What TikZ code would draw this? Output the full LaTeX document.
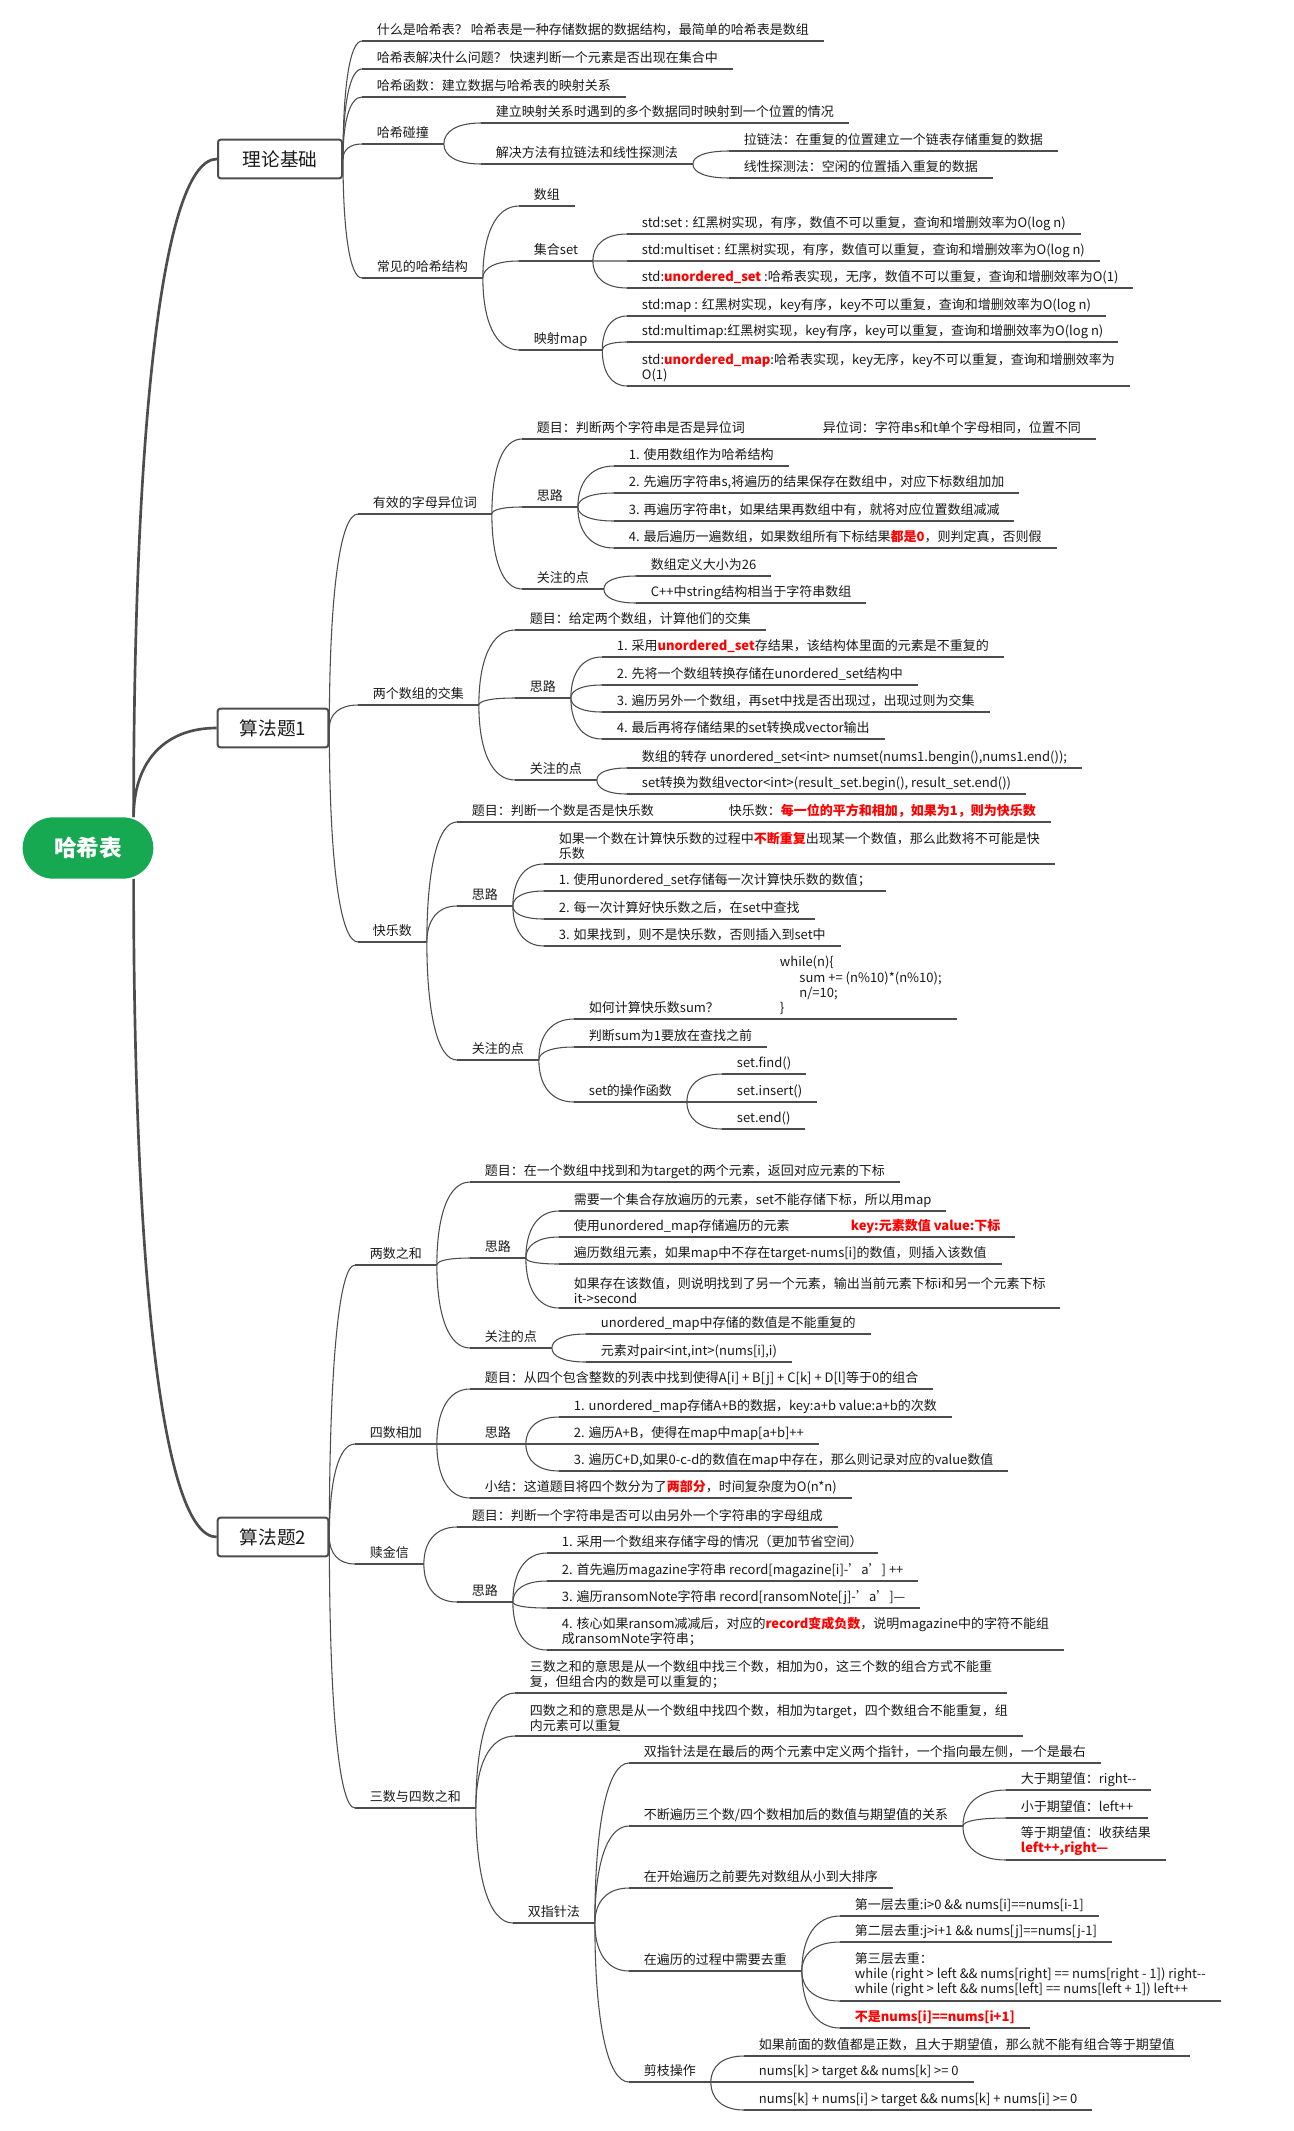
\documentclass[tikz,border=0pt]{standalone}
\usepackage{fontspec}
\setmainfont{Noto Sans CJK SC}
\usetikzlibrary{calc}
\definecolor{linec}{HTML}{4D4D4D}
\definecolor{rootc}{HTML}{17A952}
\definecolor{textc}{HTML}{1A1A1A}
\newcommand{\redb}[1]{\textcolor{red}{\textbf{#1}}}
\begin{document}
\begin{tikzpicture}[x=0.75pt,y=-0.75pt,
    uline/.style={draw=linec, line width=0.8pt},
    itembase/.style={anchor=south west, align=left, inner xsep=11pt, inner ysep=2.8pt,
      text=textc, font=\fontsize{9.75}{11.5}\selectfont,
      append after command={(\tikzlastnode.south west) edge[uline] (\tikzlastnode.south east)}},
    item/.style={itembase, text depth=2pt},
    items/.style={itembase},
    branch/.style={uline, to path={.. controls ($(\tikztostart)!0.6!(\tikztostart|-\tikztotarget)$)
      and ($(\tikztostart|-\tikztotarget)!0.35!(\tikztotarget)$) .. (\tikztotarget)}},
    trunk/.style={branch, line width=2pt},
    topic/.style={draw=linec, line width=1.5pt, fill=white, rounded corners=2pt,
      minimum height=29pt, inner sep=0pt, text=textc, font=\fontsize{14}{16}\selectfont},
    roottopic/.style={fill=rootc, text=white, rounded corners=23pt, minimum width=98pt,
      minimum height=46pt, font=\fontsize{17}{20}\selectfont\bfseries}]
  \fill[white] (0,0) rectangle (1294,2131);
  \useasboundingbox (0,0) rectangle (1294,2131);

  \node[roottopic] (root) at (88,848) {哈希表};
  \node[topic, minimum width=93pt] (T) at (280,159) {理论基础};
  \node[topic, minimum width=83pt] (A) at (273,728) {算法题1};
  \node[topic, minimum width=83pt] (B) at (273,1537) {算法题2};
  \coordinate (rootup) at ([xshift=-15pt]root.north east);
  \coordinate (rootdown) at ([xshift=-15pt]root.south east);

  % 理论基础
  \node[item] (t1) at (362,41) {什么是哈希表？ 哈希表是一种存储数据的数据结构，最简单的哈希表是数组};
  \node[item] (t2) at (362,69) {哈希表解决什么问题？ 快速判断一个元素是否出现在集合中};
  \node[item] (t3) at (362,97) {哈希函数：建立数据与哈希表的映射关系};
  \node[item] (t4) at (362,144) {哈希碰撞};
  \node[item] (t41) at (481,123) {建立映射关系时遇到的多个数据同时映射到一个位置的情况};
  \node[item] (t42) at (481,164) {解决方法有拉链法和线性探测法};
  \node[item] (t421) at (729,151) {拉链法：在重复的位置建立一个链表存储重复的数据};
  \node[item] (t422) at (729,178) {线性探测法：空闲的位置插入重复的数据};
  \node[item] (t5) at (362,278) {常见的哈希结构};
  \node[item] (t51) at (519,206) {数组};
  \node[item] (t52) at (519,261) {集合set};
  \node[item] (t521) at (627,234) {std:set : 红黑树实现，有序，数值不可以重复，查询和增删效率为O(log n)};
  \node[item] (t522) at (627,261) {std:multiset : 红黑树实现，有序，数值可以重复，查询和增删效率为O(log n)};
  \node[item] (t523) at (627,288) {std:\redb{unordered\_set} :哈希表实现，无序，数值不可以重复，查询和增删效率为O(1)};
  \node[item] (t53) at (519,350) {映射map};
  \node[item] (t531) at (627,316) {std:map : 红黑树实现，key有序，key不可以重复，查询和增删效率为O(log n)};
  \node[item] (t532) at (627,342) {std:multimap:红黑树实现，key有序，key可以重复，查询和增删效率为O(log n)};
  \node[items] (t533) at (627,386) {std:\redb{unordered\_map}:哈希表实现，key无序，key不可以重复，查询和增删效率为\\O(1)};

  % 算法题1
  \node[item] (a1) at (358,514) {有效的字母异位词};
  \node[item] (a11) at (522,439) {题目：判断两个字符串是否是异位词};
  \node[item] (a111) at (808,439) {异位词：字符串s和t单个字母相同，位置不同};
  \node[item] (a12) at (522,507) {思路};
  \node[item] (a121) at (614,466) {1. 使用数组作为哈希结构};
  \node[item] (a122) at (614,493) {2. 先遍历字符串s,将遍历的结果保存在数组中，对应下标数组加加};
  \node[item] (a123) at (614,521) {3. 再遍历字符串t，如果结果再数组中有，就将对应位置数组减减};
  \node[item] (a124) at (614,548) {4. 最后遍历一遍数组，如果数组所有下标结果\redb{都是0}，则判定真，否则假};
  \node[item] (a13) at (522,589) {关注的点};
  \node[item] (a131) at (636,576) {数组定义大小为26};
  \node[item] (a132) at (636,603) {C++中string结构相当于字符串数组};

  \node[item] (a2) at (358,705) {两个数组的交集};
  \node[item] (a21) at (515,630) {题目：给定两个数组，计算他们的交集};
  \node[item] (a22) at (515,698) {思路};
  \node[item] (a221) at (602,657) {1. 采用\redb{unordered\_set}存结果，该结构体里面的元素是不重复的};
  \node[item] (a222) at (602,685) {2. 先将一个数组转换存储在unordered\_set结构中};
  \node[item] (a223) at (602,712) {3. 遍历另外一个数组，再set中找是否出现过，出现过则为交集};
  \node[item] (a224) at (602,739) {4. 最后再将存储结果的set转换成vector输出};
  \node[item] (a23) at (515,780) {关注的点};
  \node[item] (a231) at (627,768) {数组的转存 unordered\_set<int> numset(nums1.bengin(),nums1.end());};
  \node[item] (a232) at (627,794) {set转换为数组vector<int>(result\_set.begin(), result\_set.end())};

  \node[item] (a3) at (358,942) {快乐数};
  \node[item] (a31) at (457,822) {题目：判断一个数是否是快乐数};
  \node[item] (a311) at (714,822) {快乐数：\redb{每一位的平方和相加，如果为1，则为快乐数}};
  \node[item] (a32) at (457,906) {思路};
  \node[items] (a321) at (544,864) {如果一个数在计算快乐数的过程中\redb{不断重复}出现某一个数值，那么此数将不可能是快\\乐数};
  \node[item] (a322) at (544,891) {1. 使用unordered\_set存储每一次计算快乐数的数值；};
  \node[item] (a323) at (544,919) {2. 每一次计算好快乐数之后，在set中查找};
  \node[item] (a324) at (544,946) {3. 如果找到，则不是快乐数，否则插入到set中};
  \node[item] (a33) at (457,1060) {关注的点};
  \node[item] (a331) at (574,1019) {如何计算快乐数sum？};
  \node[items] (a3311) at (765,1019) {while(n)\{\\\hspace*{1.5em}sum += (n\%10)*(n\%10);\\\hspace*{1.5em}n/=10;\\\}};
  \node[item] (a332) at (574,1047) {判断sum为1要放在查找之前};
  \node[item] (a333) at (574,1102) {set的操作函数};
  \node[item] (a3331) at (722,1074) {set.find()};
  \node[item] (a3332) at (722,1102) {set.insert()};
  \node[item] (a3333) at (722,1129) {set.end()};

  % 算法题2
  \node[item] (b1) at (355,1265) {两数之和};
  \node[item] (b11) at (470,1182) {题目：在一个数组中找到和为target的两个元素，返回对应元素的下标};
  \node[item] (b12) at (470,1258) {思路};
  \node[item] (b121) at (559,1211) {需要一个集合存放遍历的元素，set不能存储下标，所以用map};
  \node[item] (b122) at (559,1237) {使用unordered\_map存储遍历的元素};
  \node[item] (b1221) at (836,1237) {\redb{key:元素数值 value:下标}};
  \node[item] (b123) at (559,1264) {遍历数组元素，如果map中不存在target-nums[i]的数值，则插入该数值};
  \node[items] (b124) at (559,1308) {如果存在该数值，则说明找到了另一个元素，输出当前元素下标i和另一个元素下标\\it->second};
  \node[item] (b13) at (470,1348) {关注的点};
  \node[item] (b131) at (586,1334) {unordered\_map中存储的数值是不能重复的};
  \node[item] (b132) at (586,1362) {元素对pair<int,int>(nums[i],i)};

  \node[item] (b2) at (355,1444) {四数相加};
  \node[item] (b21) at (470,1389) {题目：从四个包含整数的列表中找到使得A[i] + B[j] + C[k] + D[l]等于0的组合};
  \node[item] (b22) at (470,1444) {思路};
  \node[item] (b221) at (559,1417) {1. unordered\_map存储A+B的数据，key:a+b value:a+b的次数};
  \node[item] (b222) at (559,1444) {2. 遍历A+B，使得在map中map[a+b]++};
  \node[item] (b223) at (559,1471) {3. 遍历C+D,如果0-c-d的数值在map中存在，那么则记录对应的value数值};
  \node[item] (b23) at (470,1498) {小结：这道题目将四个数分为了\redb{两部分}，时间复杂度为O(n*n)};

  \node[item] (b3) at (355,1564) {赎金信};
  \node[item] (b31) at (457,1527) {题目：判断一个字符串是否可以由另外一个字符串的字母组成};
  \node[item] (b32) at (457,1602) {思路};
  \node[item] (b321) at (547,1553) {1. 采用一个数组来存储字母的情况（更加节省空间）};
  \node[item] (b322) at (547,1581) {2. 首先遍历magazine字符串 record[magazine[i]-'a'] ++};
  \node[item] (b323) at (547,1608) {3. 遍历ransomNote字符串 record[ransomNote[j]-'a']—};
  \node[items] (b324) at (547,1650) {4. 核心如果ransom减减后，对应的\redb{record变成负数}，说明magazine中的字符不能组\\成ransomNote字符串；};

  \node[item] (b4) at (355,1808) {三数与四数之和};
  \node[items] (b41) at (515,1693) {三数之和的意思是从一个数组中找三个数，相加为0，这三个数的组合方式不能重\\复，但组合内的数是可以重复的；};
  \node[items] (b42) at (515,1736) {四数之和的意思是从一个数组中找四个数，相加为target，四个数组合不能重复，组\\内元素可以重复};
  \node[item] (b43) at (513,1923) {双指针法};
  \node[item] (b431) at (629,1763) {双指针法是在最后的两个元素中定义两个指针，一个指向最左侧，一个是最右};
  \node[item] (b432) at (629,1826) {不断遍历三个数/四个数相加后的数值与期望值的关系};
  \node[item] (b4321) at (1006,1790) {大于期望值：right-{}-};
  \node[item] (b4322) at (1006,1818) {小于期望值：left++};
  \node[items] (b4323) at (1006,1860) {等于期望值：收获结果\\\redb{left++,right—}};
  \node[item] (b433) at (629,1888) {在开始遍历之前要先对数组从小到大排序};
  \node[item] (b434) at (629,1971) {在遍历的过程中需要去重};
  \node[item] (b4341) at (840,1916) {第一层去重:i>0 \&\& nums[i]==nums[i-1]};
  \node[item] (b4342) at (840,1942) {第二层去重:j>i+1 \&\& nums[j]==nums[j-1]};
  \node[items] (b4343) at (840,2001) {第三层去重：\\while (right > left \&\& nums[right] == nums[right - 1]) right-{}-\\while (right > left \&\& nums[left] == nums[left + 1]) left++};
  \node[item] (b4344) at (840,2028) {\redb{不是nums[i]==nums[i+1]}};
  \node[item] (b435) at (629,2082) {剪枝操作};
  \node[item] (b4351) at (744,2056) {如果前面的数值都是正数，且大于期望值，那么就不能有组合等于期望值};
  \node[item] (b4352) at (744,2082) {nums[k] > target \&\& nums[k] >= 0};
  \node[item] (b4353) at (744,2110) {nums[k] + nums[i] > target \&\& nums[k] + nums[i] >= 0};

  \begin{scope}
    \draw[trunk] (rootup) to (T.west);
    \draw[trunk] (rootup) to (A.west);
    \draw[trunk] (rootdown) to (B.west);

    \draw[branch] (T.east) to (t1.south west);
    \draw[branch] (T.east) to (t2.south west);
    \draw[branch] (T.east) to (t3.south west);
    \draw[branch] (T.east) to (t4.south west);
    \draw[branch] (T.east) to (t5.south west);
    \draw[branch] (t4.south east) to (t41.south west);
    \draw[branch] (t4.south east) to (t42.south west);
    \draw[branch] (t42.south east) to (t421.south west);
    \draw[branch] (t42.south east) to (t422.south west);
    \draw[branch] (t5.south east) to (t51.south west);
    \draw[branch] (t5.south east) to (t52.south west);
    \draw[branch] (t5.south east) to (t53.south west);
    \draw[branch] (t52.south east) to (t521.south west);
    \draw[branch] (t52.south east) to (t522.south west);
    \draw[branch] (t52.south east) to (t523.south west);
    \draw[branch] (t53.south east) to (t531.south west);
    \draw[branch] (t53.south east) to (t532.south west);
    \draw[branch] (t53.south east) to (t533.south west);

    \draw[branch] (A.east) to (a1.south west);
    \draw[branch] (A.east) to (a2.south west);
    \draw[branch] (A.east) to (a3.south west);
    \draw[branch] (a1.south east) to (a11.south west);
    \draw[branch] (a1.south east) to (a12.south west);
    \draw[branch] (a1.south east) to (a13.south west);
    \draw[uline] (a11.south east) -- (a111.south west);
    \draw[branch] (a12.south east) to (a121.south west);
    \draw[branch] (a12.south east) to (a122.south west);
    \draw[branch] (a12.south east) to (a123.south west);
    \draw[branch] (a12.south east) to (a124.south west);
    \draw[branch] (a13.south east) to (a131.south west);
    \draw[branch] (a13.south east) to (a132.south west);
    \draw[branch] (a2.south east) to (a21.south west);
    \draw[branch] (a2.south east) to (a22.south west);
    \draw[branch] (a2.south east) to (a23.south west);
    \draw[branch] (a22.south east) to (a221.south west);
    \draw[branch] (a22.south east) to (a222.south west);
    \draw[branch] (a22.south east) to (a223.south west);
    \draw[branch] (a22.south east) to (a224.south west);
    \draw[branch] (a23.south east) to (a231.south west);
    \draw[branch] (a23.south east) to (a232.south west);
    \draw[branch] (a3.south east) to (a31.south west);
    \draw[branch] (a3.south east) to (a32.south west);
    \draw[branch] (a3.south east) to (a33.south west);
    \draw[uline] (a31.south east) -- (a311.south west);
    \draw[branch] (a32.south east) to (a321.south west);
    \draw[branch] (a32.south east) to (a322.south west);
    \draw[branch] (a32.south east) to (a323.south west);
    \draw[branch] (a32.south east) to (a324.south west);
    \draw[branch] (a33.south east) to (a331.south west);
    \draw[branch] (a33.south east) to (a332.south west);
    \draw[branch] (a33.south east) to (a333.south west);
    \draw[uline] (a331.south east) -- (a3311.south west);
    \draw[branch] (a333.south east) to (a3331.south west);
    \draw[branch] (a333.south east) to (a3332.south west);
    \draw[branch] (a333.south east) to (a3333.south west);

    \draw[branch] (B.east) to (b1.south west);
    \draw[branch] (B.east) to (b2.south west);
    \draw[branch] (B.east) to (b3.south west);
    \draw[branch] (B.east) to (b4.south west);
    \draw[branch] (b1.south east) to (b11.south west);
    \draw[branch] (b1.south east) to (b12.south west);
    \draw[branch] (b1.south east) to (b13.south west);
    \draw[branch] (b12.south east) to (b121.south west);
    \draw[branch] (b12.south east) to (b122.south west);
    \draw[branch] (b12.south east) to (b123.south west);
    \draw[branch] (b12.south east) to (b124.south west);
    \draw[uline] (b122.south east) -- (b1221.south west);
    \draw[branch] (b13.south east) to (b131.south west);
    \draw[branch] (b13.south east) to (b132.south west);
    \draw[branch] (b2.south east) to (b21.south west);
    \draw[branch] (b2.south east) to (b22.south west);
    \draw[branch] (b2.south east) to (b23.south west);
    \draw[branch] (b22.south east) to (b221.south west);
    \draw[branch] (b22.south east) to (b222.south west);
    \draw[branch] (b22.south east) to (b223.south west);
    \draw[branch] (b3.south east) to (b31.south west);
    \draw[branch] (b3.south east) to (b32.south west);
    \draw[branch] (b32.south east) to (b321.south west);
    \draw[branch] (b32.south east) to (b322.south west);
    \draw[branch] (b32.south east) to (b323.south west);
    \draw[branch] (b32.south east) to (b324.south west);
    \draw[branch] (b4.south east) to (b41.south west);
    \draw[branch] (b4.south east) to (b42.south west);
    \draw[branch] (b4.south east) to (b43.south west);
    \draw[branch] (b43.south east) to (b431.south west);
    \draw[branch] (b43.south east) to (b432.south west);
    \draw[branch] (b43.south east) to (b433.south west);
    \draw[branch] (b43.south east) to (b434.south west);
    \draw[branch] (b43.south east) to (b435.south west);
    \draw[branch] (b432.south east) to (b4321.south west);
    \draw[branch] (b432.south east) to (b4322.south west);
    \draw[branch] (b432.south east) to (b4323.south west);
    \draw[branch] (b434.south east) to (b4341.south west);
    \draw[branch] (b434.south east) to (b4342.south west);
    \draw[branch] (b434.south east) to (b4343.south west);
    \draw[branch] (b434.south east) to (b4344.south west);
    \draw[branch] (b435.south east) to (b4351.south west);
    \draw[branch] (b435.south east) to (b4352.south west);
    \draw[branch] (b435.south east) to (b4353.south west);
  \end{scope}
\end{tikzpicture}
\end{document}
